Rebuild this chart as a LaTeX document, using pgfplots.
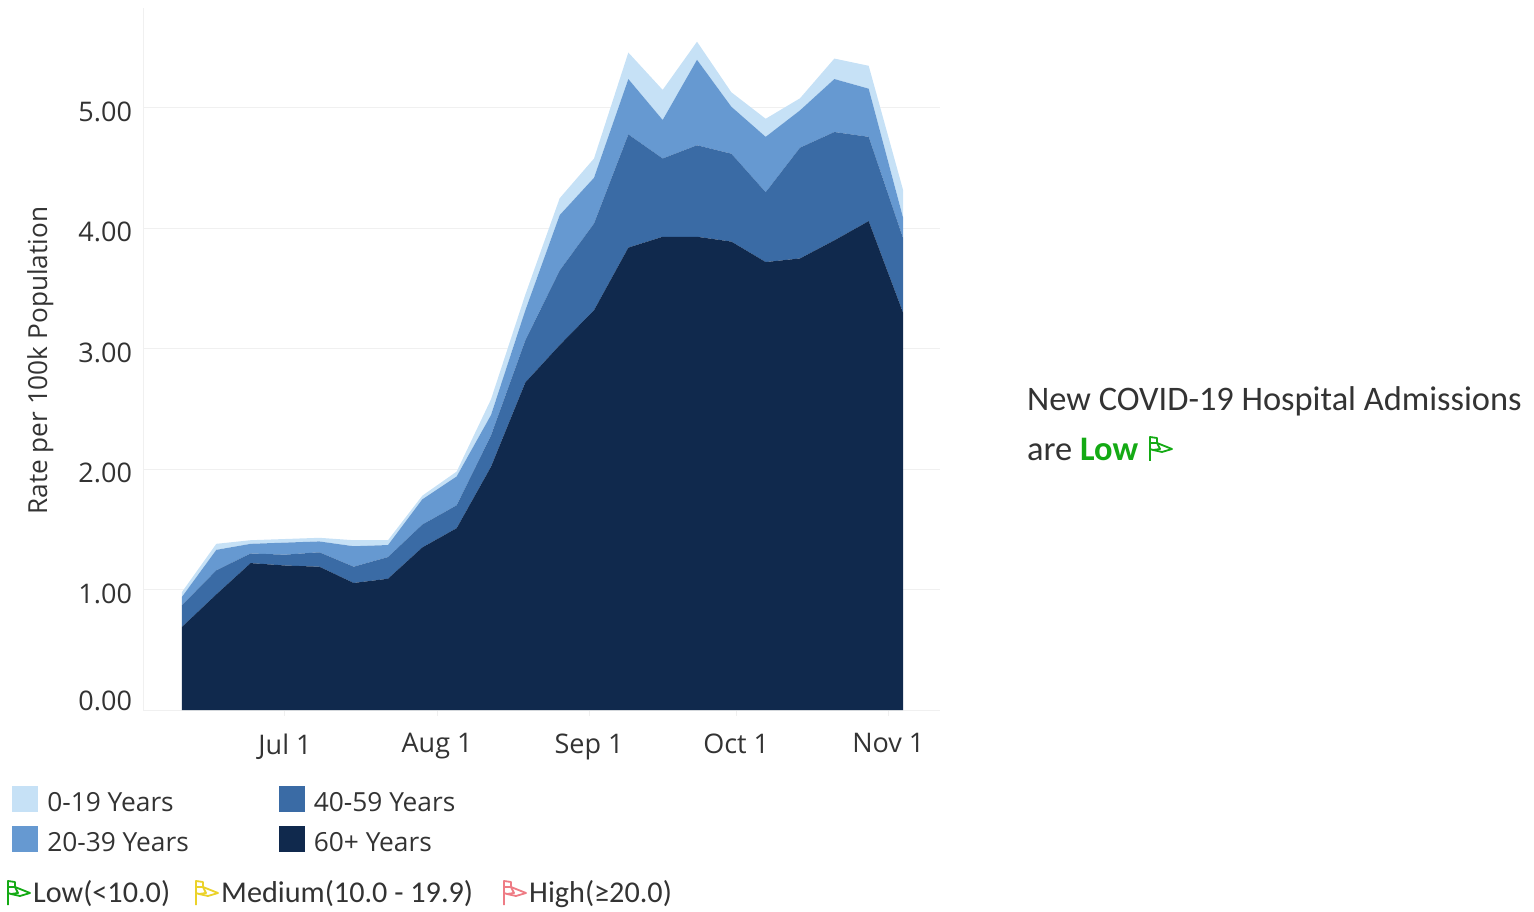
\documentclass[border=0pt]{standalone}
\usepackage{pgfplots}
\usepackage{pgfplotstable}
\usepackage{fontspec}
\pgfplotsset{compat=1.18}
\setmainfont{Open Sans}
\newfontfamily\carl{Carlito}
\definecolor{cA}{HTML}{C6E1F6}
\definecolor{cB}{HTML}{6699D1}
\definecolor{cC}{HTML}{3A6BA5}
\definecolor{cD}{HTML}{10294D}
\definecolor{txt}{HTML}{333333}
\definecolor{gridc}{HTML}{F0F0F0}
\definecolor{lowc}{HTML}{14AA14}
\definecolor{medc}{HTML}{EBD22A}
\definecolor{highc}{HTML}{EE7C85}
\pgfplotstableread{
x   a b c d
-21 0.69 0.18 0.07 0.04
-14 0.96 0.20 0.17 0.05
-7  1.22 0.08 0.08 0.03
0   1.20 0.09 0.10 0.03
7   1.19 0.12 0.09 0.03
14  1.055 0.135 0.17 0.05
21  1.09 0.18 0.10 0.04
28  1.35 0.19 0.21 0.03
35  1.51 0.19 0.24 0.04
42  2.02 0.26 0.17 0.13
49  2.72 0.35 0.25 0.13
56  3.03 0.62 0.46 0.14
63  3.32 0.72 0.38 0.16
70  3.84 0.94 0.46 0.22
77  3.93 0.65 0.32 0.25
84  3.93 0.76 0.71 0.15
91  3.89 0.73 0.39 0.12
98  3.72 0.58 0.46 0.15
105 3.75 0.92 0.31 0.10
112 3.90 0.90 0.44 0.17
119 4.06 0.70 0.40 0.19
126 3.30 0.62 0.17 0.23
}\admissions
\newcommand\flag[3]{%
  \begin{scope}[shift={(#1,911-#2)},line width=1.8pt,draw=#3,line join=round]
    \draw (0,-12) -- (0,12) -- (7,11) -- (7,6);
    \draw (0,6) -- (7,6) -- (22,0) -- (12,-3) -- (3,-1) -- (0,0);
    \draw (7,6) -- (10,0) -- (3,-1);
  \end{scope}}
\begin{document}
\begin{tikzpicture}[x=1pt,y=1pt]
\path[use as bounding box] (0,0) rectangle (1534,911);
\begin{axis}[
  at={(143pt,201pt)}, anchor=south west,
  scale only axis, width=797pt, height=702pt,
  xmin=-28.95, xmax=133.54, ymin=0, ymax=5.83,
  stack plots=y,
  axis x line*=bottom, axis y line*=left,
  axis line style={draw=gridc,-,line width=1pt},
  ymajorgrids, grid style={draw=gridc,line width=1pt},
  xtick={0,31,62,92,123},
  xticklabels={Jul 1,Aug 1,Sep 1,Oct 1,Nov 1},
  ytick={1,2,3,4,5},
  extra y ticks={0},
  extra y tick style={yticklabel style={yshift=13pt},grid=none},
  extra y tick labels={0.00},
  yticklabel style={/pgf/number format/fixed,/pgf/number format/fixed zerofill,/pgf/number format/precision=2,/pgf/number format/assume math mode=true,yshift=-4pt,xshift=-1.5pt,font=\fontsize{27}{32}\selectfont,text=txt},
  xticklabel style={font=\fontsize{27}{32}\selectfont,text=txt,yshift=-14pt},
  tick align=outside,
  major tick length=6pt,
  y tick style={draw=none},
  x tick style={draw=gridc,line width=1pt},
  ylabel={Rate per 100k Population},
  ylabel style={font=\fontsize{26.2}{31}\selectfont,text=txt,at={(axis description cs:-0.108,0.4975)},anchor=south},
  legend style={at={(-0.164,-0.108)},anchor=north west,draw=none,fill=none,font=\fontsize{26.3}{31}\selectfont,text=txt,
    /tikz/every even column/.append style={column sep=88pt},row sep=11pt,inner sep=0pt,outer sep=0pt},
  legend columns=2, transpose legend, reverse legend,
  legend cell align=left,
  legend image code/.code={\path[#1,draw=none] (0pt,-9pt) rectangle (26pt,17pt); \path (33pt,0pt);},
]
\addplot[fill=cD,draw=none] table[x=x,y=a]{\admissions} \closedcycle;
\addplot[fill=cC,draw=none] table[x=x,y=b]{\admissions} \closedcycle;
\addplot[fill=cB,draw=none] table[x=x,y=c]{\admissions} \closedcycle;
\addplot[fill=cA,draw=none] table[x=x,y=d]{\admissions} \closedcycle;
\legend{60+ Years,40-59 Years,20-39 Years,0-19 Years}
\end{axis}
\node[anchor=base west,inner sep=0pt,text=txt,font=\carl\fontsize{34.4}{40}\selectfont] at (1027,911-411) {New COVID-19 Hospital Admissions};
\node[anchor=base west,inner sep=0pt,text=txt,font=\carl\fontsize{34.4}{40}\selectfont] at (1027,911-461) {are {\bfseries\color{lowc}Low}};
\flag{1150}{449}{lowc}
\flag{8}{893}{lowc}
\flag{196}{893}{medc}
\flag{504}{893}{highc}
\node[anchor=base west,inner sep=0pt,text=txt,font=\carl\fontsize{30.2}{36}\selectfont] at (33,911-902) {Low(<10.0)};
\node[anchor=base west,inner sep=0pt,text=txt,font=\carl\fontsize{30.2}{36}\selectfont] at (221,911-902) {Medium(10.0 - 19.9)};
\node[anchor=base west,inner sep=0pt,text=txt,font=\carl\fontsize{30.2}{36}\selectfont] at (529,911-902) {High(≥20.0)};
\end{tikzpicture}
\end{document}
